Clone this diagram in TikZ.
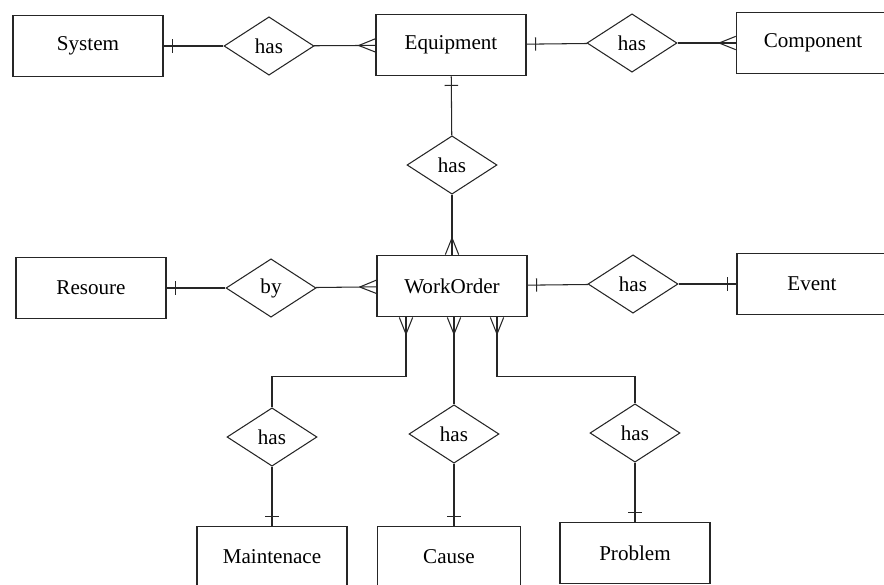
\documentclass[tikz,border=0pt]{standalone}
\usepackage{fontspec}
\setmainfont{Liberation Serif}
\usetikzlibrary{shapes.geometric,decorations.markings}
\tikzset{
    entity/.style={draw=black!85,line width=1pt,minimum height=1.85cm,minimum width=4.5cm,font=\fontsize{18}{20}\selectfont},
    rel/.style={draw=black!85,line width=0.9pt,diamond,inner sep=0pt,minimum width=2.7cm,minimum height=1.75cm,font=\fontsize{18}{20}\selectfont},
    link/.style={draw=black!85,line width=0.9pt},
    one/.style={postaction={decorate,decoration={markings,mark=at position -0.27cm with {\draw[line width=0.9pt] (0,-0.2cm)--(0,0.2cm);}}}},
    one start/.style={postaction={decorate,decoration={markings,mark=at position 0.27cm with {\draw[line width=0.9pt] (0,-0.2cm)--(0,0.2cm);}}}},
    many/.style={postaction={decorate,decoration={markings,mark=at position -0.5cm with {\draw[line width=0.9pt] (0,0)--(0.5cm,0.2cm) (0,0)--(0.5cm,-0.2cm);}}}},
    many start/.style={postaction={decorate,decoration={markings,mark=at position 0.5cm with {\draw[line width=0.9pt] (0,0)--(-0.5cm,0.2cm) (0,0)--(-0.5cm,-0.2cm);}}}}
}
\begin{document}
\begin{tikzpicture}[x=0.03cm,y=-0.03cm]
    \useasboundingbox (0,0) rectangle (884,585);
    \node[entity] (sys) at (88,46) {System};
    \node[rel] (hassys) at (269,46) {has};
    \node[entity] (equip) at (451,45) {Equipment};
    \node[rel] (hascomp) at (632,43) {has};
    \node[entity,minimum width=4.6cm] (comp) at (813,43) {Component};
    \node[rel] (haswo) at (452,165) {has};
    \node[entity] (res) at (91,288) {Resoure};
    \node[rel] (by) at (271,288) {by};
    \node[entity] (wo) at (452,286) {WorkOrder};
    \node[rel] (hasev) at (633,284) {has};
    \node[entity,minimum width=4.5cm] (event) at (812,284) {Event};
    \node[rel] (hasmt) at (272,437) {has};
    \node[rel] (hascs) at (454,434) {has};
    \node[rel] (haspb) at (635,433) {has};
    \node[entity] (maint) at (272,557) {Maintenace};
    \node[entity,minimum width=4.3cm] (cause) at (449,557) {Cause};
    \node[entity] (prob) at (635,553) {Problem};

    \draw[link,one start] (sys) -- (hassys);
    \draw[link,many] (hassys) -- (equip);
    \draw[link,one start] (equip) -- (hascomp);
    \draw[link,many] (hascomp) -- (comp);
    \draw[link,one start] (equip) -- (haswo);
    \draw[link,many] (haswo) -- (wo);
    \draw[link,one start] (res) -- (by);
    \draw[link,many] (by) -- (wo);
    \draw[link,one start] (wo) -- (hasev);
    \draw[link,one] (hasev) -- (event);
    \draw[link,many start] ([xshift=-1.38cm]wo.south) -- ++(0,59) -| (hasmt.north);
    \draw[link,many start] ([xshift=0.06cm]wo.south) -- (hascs.north);
    \draw[link,many start] ([xshift=1.35cm]wo.south) -- ++(0,59) -| (haspb.north);
    \draw[link,one] (hasmt) -- (maint);
    \draw[link,one] (hascs.south) -- (hascs.south |- cause.north);
    \draw[link,one] (haspb) -- (prob);
\end{tikzpicture}
\end{document}
